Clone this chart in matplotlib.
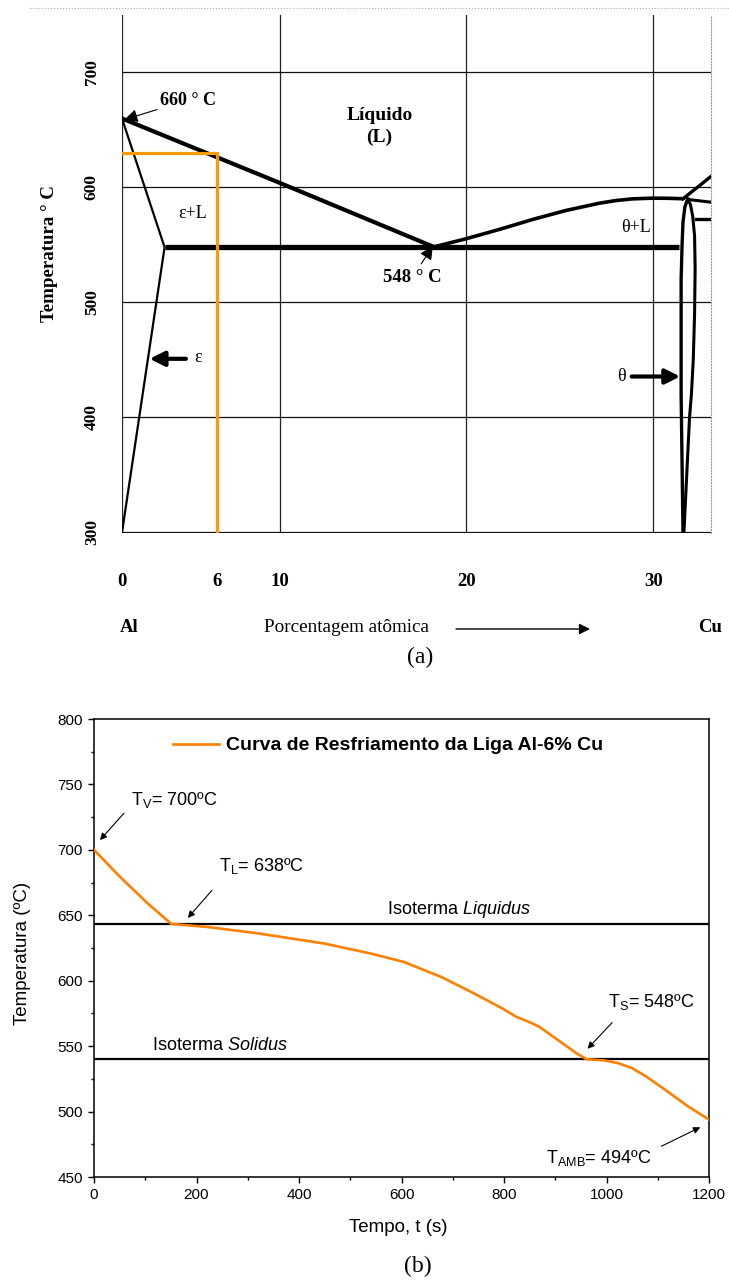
import numpy as np
import matplotlib.pyplot as plt
from matplotlib.lines import Line2D
from matplotlib.ticker import FixedLocator, FixedFormatter, MultipleLocator


# (a) Al-Cu phase diagram, boundaries (at.% Cu, deg C).
liq_al_x = [0, 10, 18.3]
liq_al_t = [660, 604, 548]
eps_x = [0, 2.7, 0]
eps_t = [660, 548, 300]
eut_x = [2.7, 31.4]
eut_t = [548, 548]
liq_cu_x = [18.3, 19.98, 21.76, 23.55, 25.33, 27.11, 28.0, 28.89, 29.96, 30.8, 31.6]
liq_cu_t = [548.5, 555.4, 563.5, 572.2, 580, 586.3, 588.6, 590.1, 590.7, 590.6, 590.2]
theta_left_x = [31.85, 31.7, 31.6, 31.55, 31.5, 31.5, 31.5, 31.55, 31.6]
theta_left_t = [590, 583, 570, 550, 520, 480, 420, 360, 300]
theta_right_x = [31.85, 32.0, 32.12, 32.22, 32.25, 32.22, 32.15, 32.05, 31.95,
                 31.8, 31.65]
theta_right_t = [590, 585, 575, 558, 530, 490, 450, 420, 400, 350, 300]
upper_x = [31.6, 33.1]
upper_t = [590.2, 609.6]
side_x = [31.9, 33.1]
side_t = [589.5, 587.2]
short_x = [32.3, 33.1]
short_t = [573, 573]
alloy_x = [0, 6, 6]
alloy_t = [630, 630, 300]

grid_x = [0, 10, 20, 30]
grid_t = [300, 400, 500, 600, 700]

# (b) cooling curve of the Al-6% Cu alloy.
time_s = [0, 51, 105, 151, 223, 323, 451, 541, 605, 678, 741, 796, 823, 850,
          868, 905, 941, 961, 996, 1023, 1050, 1077, 1114, 1159, 1200]
temp_c = [700, 679.3, 659, 643.4, 641, 636, 628.3, 620.7, 614.3, 602.8,
          590.4, 579, 572.6, 568.3, 565, 554.8, 544.7, 540, 539.1, 537,
          533.2, 526.9, 516.8, 504, 493.9]
t_liquidus = 643.5
t_solidus = 540

W, H = 729, 1282
SERIF = ['Liberation Serif', 'DejaVu Serif']
SANS = ['Liberation Sans', 'DejaVu Sans']

plt.rcParams['mathtext.fontset'] = 'custom'
plt.rcParams['mathtext.rm'] = 'Liberation Sans'
plt.rcParams['mathtext.it'] = 'Liberation Sans:italic'

fig = plt.figure(figsize=(W / 100, H / 100), dpi=100)


def fx(px):
    return px / W


def fy(py):
    return 1 - py / H


# ---------------- (a) phase diagram ----------------
ax = fig.add_axes([fx(122), fy(533), 589 / W, 518 / H])

# The original diagram has an uneven composition axis.
knots = [0, 10, 20, 30, 40]
knot_px = [0, 158, 345, 532, 719]


def fwd(x):
    return np.interp(x, knots, knot_px)


def inv(p):
    return np.interp(p, knot_px, knots)


ax.set_xscale('function', functions=(fwd, inv))
ax.set_xlim(0, 33.1)
ax.set_ylim(299.5, 750)

for s in ['top', 'bottom', 'left']:
    ax.spines[s].set_visible(False)
ax.spines['right'].set_linestyle(':')
ax.spines['right'].set_color('#999999')

for gx in grid_x:
    ax.axvline(gx, color='#222222', lw=0.9, zorder=1)
for gt in grid_t:
    ax.axhline(gt, color='#111111', lw=0.9, zorder=1)

ax.xaxis.set_major_locator(FixedLocator(grid_x))
ax.xaxis.set_major_formatter(FixedFormatter([str(v) for v in grid_x]))
ax.xaxis.set_minor_locator(FixedLocator([6]))
ax.xaxis.set_minor_formatter(FixedFormatter(['6']))
ax.yaxis.set_major_locator(FixedLocator(grid_t))
ax.tick_params(axis='x', which='both', length=0, pad=29)
ax.tick_params(axis='y', length=0, pad=16, labelrotation=90)
for lab in ax.get_xticklabels(which='both'):
    lab.set_fontfamily(SERIF)
    lab.set_fontweight('bold')
    lab.set_fontsize(13.5)
for lab in ax.get_yticklabels():
    lab.set_fontfamily(SERIF)
    lab.set_fontweight('bold')
    lab.set_fontsize(12.5)
    lab.set_va('center')

ax.plot(liq_al_x, liq_al_t, color='black', lw=3, solid_capstyle='round', zorder=3)
ax.plot(eps_x, eps_t, color='black', lw=1.6, zorder=3)
ax.plot(eut_x, eut_t, color='black', lw=3.8, solid_capstyle='butt', zorder=3)
ax.plot(liq_cu_x, liq_cu_t, color='black', lw=2.6, solid_capstyle='round',
        solid_joinstyle='round', zorder=3)
ax.plot(theta_left_x, theta_left_t, color='black', lw=2.4, solid_joinstyle='round', zorder=3)
ax.plot(theta_right_x, theta_right_t, color='black', lw=2.2, solid_joinstyle='round', zorder=3)
ax.plot(upper_x, upper_t, color='black', lw=2.4, zorder=3)
ax.plot(side_x, side_t, color='black', lw=2.2, zorder=3)
ax.plot(short_x, short_t, color='black', lw=2.4, zorder=3)
ax.plot(alloy_x, alloy_t, color='#ff9900', lw=2.3, zorder=4)

bold_serif = dict(fontfamily=SERIF, fontweight='bold')
thin_arrow = dict(arrowstyle='-|>', color='#555555', lw=0.8, mutation_scale=20,
                  fc='black', ec='black', shrinkA=0, shrinkB=0)
ax.annotate('660 ° C', xy=(0.15, 659), xytext=(2.4, 676), fontsize=13,
            ha='left', va='center', **bold_serif, arrowprops=thin_arrow)
ax.text(15.35, 662.6, 'Líquido', fontsize=14, ha='center', va='center', **bold_serif)
ax.text(15.35, 643.5, '(L)', fontsize=14, ha='center', va='center', **bold_serif)
ax.text(4.5, 577.4, 'ε+L', fontsize=13, ha='center', va='center', fontfamily=SERIF)
ax.annotate('548 ° C', xy=(18.2, 549), xytext=(17.1, 521.7), fontsize=13.5,
            ha='center', va='center', **bold_serif,
            arrowprops=dict(thin_arrow, shrinkA=2))
ax.text(29.1, 565, 'θ+L', fontsize=13, ha='center', va='center', fontfamily=SERIF)
ax.text(4.8, 452, 'ε', fontsize=13, ha='center', va='center', fontfamily=SERIF)
thick_arrow = dict(arrowstyle='-|>', color='black', lw=3, mutation_scale=22,
                   shrinkA=0, shrinkB=0)
ax.annotate('', xy=(1.75, 451), xytext=(4.05, 451), arrowprops=thick_arrow)
ax.text(28.3, 435.6, 'θ', fontsize=13, ha='center', va='center', fontfamily=SERIF)
ax.annotate('', xy=(31.45, 435.6), xytext=(28.85, 435.6), arrowprops=thick_arrow)

fig.text(fx(50), fy(254), 'Temperatura ° C', rotation=90, ha='center', va='center',
         fontsize=13.6, **bold_serif)
fig.text(fx(120), fy(627), 'Al', ha='left', va='center', fontsize=13.5, **bold_serif)
fig.text(fx(346), fy(627), 'Porcentagem atômica', ha='center', va='center',
         fontsize=13.8, fontfamily=SERIF)
fig.text(fx(698), fy(627), 'Cu', ha='left', va='center', fontsize=13.5, **bold_serif)
ax.annotate('', xy=(fx(590), fy(629)), xytext=(fx(456), fy(629)),
            xycoords='figure fraction', textcoords='figure fraction',
            arrowprops=dict(arrowstyle='-|>', color='black', lw=1,
                            mutation_scale=16, shrinkA=0, shrinkB=0))
fig.text(fx(420), fy(657), '(a)', ha='center', va='center', fontsize=17,
         fontfamily=SERIF)
fig.add_artist(Line2D([fx(30), 1], [fy(8), fy(8)], ls=':', lw=0.8,
                      color='#aaaaaa', transform=fig.transFigure))

# ---------------- (b) cooling curve ----------------
bx = fig.add_axes([fx(94), fy(1177), 615 / W, 458 / H])
bx.plot(time_s, temp_c, color='#ff8000', lw=1.9,
        label='Curva de Resfriamento da Liga Al-6% Cu', zorder=3)
bx.axhline(t_liquidus, color='black', lw=1.6, zorder=2)
bx.axhline(t_solidus, color='black', lw=1.6, zorder=2)
bx.set_xlim(0, 1200)
bx.set_ylim(450, 800)
bx.xaxis.set_major_locator(MultipleLocator(200))
bx.xaxis.set_minor_locator(MultipleLocator(100))
bx.yaxis.set_major_locator(MultipleLocator(50))
bx.yaxis.set_minor_locator(MultipleLocator(25))
bx.tick_params(which='major', direction='out', length=4, width=1, labelsize=11, pad=4)
bx.tick_params(which='minor', direction='out', length=2.5, width=1)
for lab in bx.get_xticklabels() + bx.get_yticklabels():
    lab.set_fontfamily(SANS)
for s in bx.spines.values():
    s.set_linewidth(1.1)

bx.legend(loc='center left', bbox_to_anchor=(0.128, 0.942), frameon=False,
          handlelength=2.4, handletextpad=0.35, borderpad=0, borderaxespad=0,
          prop=dict(family=SANS, weight='bold', size=14))

sans = dict(fontfamily=SANS, fontsize=13)
arrow = dict(arrowstyle='-|>', color='black', lw=0.8, mutation_scale=10,
             shrinkA=0, shrinkB=0)
bx.text(72, 738, r'T$_\mathregular{V}$= 700ºC', ha='left', va='center', **sans)
bx.annotate('', xy=(11.7, 707.5), xytext=(58.5, 728), arrowprops=arrow)
bx.text(244, 687.6, r'T$_\mathregular{L}$= 638ºC', ha='left', va='center', **sans)
bx.annotate('', xy=(183, 648), xytext=(230, 669), arrowprops=arrow)
bx.text(572, 654.7, r'Isoterma $\mathit{Liquidus}$', ha='left', va='center', **sans)
bx.text(113, 550.8, r'Isoterma $\mathit{Solidus}$', ha='left', va='center', **sans)
bx.text(1003, 584, r'T$_\mathregular{S}$= 548ºC', ha='left', va='center', **sans)
bx.annotate('', xy=(963, 548), xytext=(1011, 568), arrowprops=arrow)
bx.text(882, 464.4, r'T$_\mathregular{AMB}$= 494ºC', ha='left', va='center', **sans)
bx.annotate('', xy=(1183, 488), xytext=(1107, 473.5), arrowprops=arrow)

fig.text(fx(23), fy(953), 'Temperatura (ºC)', rotation=90, ha='center', va='center',
         fontfamily=SANS, fontsize=13.5)
fig.text(fx(398), fy(1227), 'Tempo, t (s)', ha='center', va='center',
         fontfamily=SANS, fontsize=13.5)
fig.text(fx(418), fy(1266), '(b)', ha='center', va='center', fontsize=17,
         fontfamily=SERIF)

fig.savefig('out.png', dpi=100)
plt.close(fig)
